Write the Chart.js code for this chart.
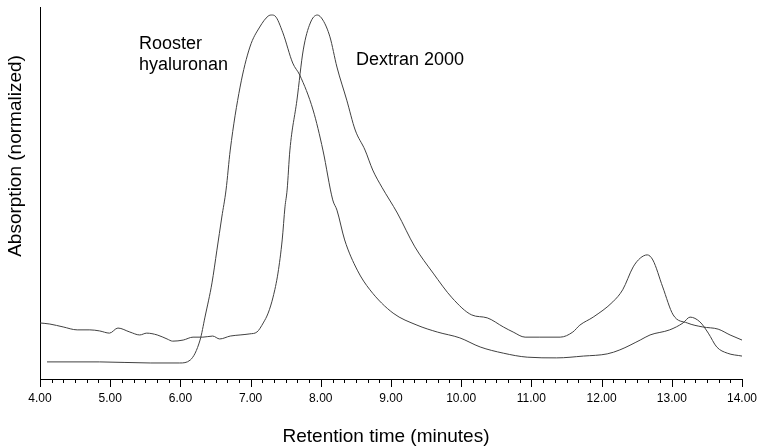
<!DOCTYPE html>
<html>
<head>
<meta charset="utf-8">
<script src="https://cdn.jsdelivr.net/npm/chart.js@4/dist/chart.umd.min.js"></script>
<style>
  html, body { margin: 0; padding: 0; background: #fff; }
  #wrap { width: 761px; height: 446px; position: relative; }
</style>
</head>
<body>
<div id="wrap"><canvas id="chart"></canvas></div>
<script>
// retention time (min) and normalized absorption
var tRooster = [4.10, 4.85, 5.57, 5.99, 6.14, 6.28, 6.35, 6.45, 6.52, 6.59, 6.65, 6.71, 6.85, 6.99, 7.13, 7.25, 7.30, 7.35, 7.46, 7.60, 7.70, 7.89, 8.03, 8.17, 8.23, 8.34, 8.52, 8.70, 9.03, 9.37, 9.66, 9.98, 10.27, 10.60, 10.94, 11.36, 11.74, 12.08, 12.26, 12.55, 12.69, 12.97, 13.16, 13.26, 13.40, 13.52, 13.64, 13.79, 14.00];
var absRooster = [0.047, 0.047, 0.044, 0.044, 0.052, 0.107, 0.170, 0.264, 0.354, 0.445, 0.519, 0.629, 0.802, 0.912, 0.967, 0.997, 1.000, 0.997, 0.951, 0.868, 0.835, 0.739, 0.629, 0.492, 0.464, 0.382, 0.299, 0.245, 0.181, 0.148, 0.129, 0.113, 0.088, 0.071, 0.060, 0.058, 0.063, 0.069, 0.080, 0.107, 0.121, 0.135, 0.154, 0.170, 0.157, 0.126, 0.088, 0.071, 0.063];

var tDextran = [4.00, 4.14, 4.33, 4.53, 4.71, 4.85, 4.99, 5.11, 5.28, 5.42, 5.52, 5.67, 5.81, 5.89, 6.04, 6.18, 6.32, 6.46, 6.56, 6.71, 6.85, 6.99, 7.09, 7.18, 7.25, 7.32, 7.39, 7.45, 7.49, 7.52, 7.56, 7.66, 7.75, 7.85, 7.95, 8.03, 8.13, 8.23, 8.37, 8.49, 8.63, 8.74, 8.87, 9.09, 9.34, 9.60, 9.87, 10.15, 10.37, 10.60, 10.74, 10.91, 11.12, 11.41, 11.59, 11.69, 11.88, 12.16, 12.30, 12.45, 12.55, 12.65, 12.73, 12.87, 13.02, 13.22, 13.44, 13.66, 13.83, 14.00];
var absDextran = [0.154, 0.151, 0.143, 0.135, 0.135, 0.132, 0.126, 0.140, 0.129, 0.121, 0.126, 0.121, 0.110, 0.104, 0.107, 0.115, 0.115, 0.118, 0.110, 0.118, 0.121, 0.124, 0.129, 0.154, 0.181, 0.225, 0.291, 0.382, 0.473, 0.519, 0.629, 0.766, 0.904, 0.978, 1.000, 0.986, 0.940, 0.857, 0.766, 0.684, 0.629, 0.574, 0.527, 0.456, 0.363, 0.291, 0.223, 0.176, 0.168, 0.143, 0.129, 0.115, 0.115, 0.115, 0.129, 0.148, 0.170, 0.212, 0.245, 0.308, 0.332, 0.341, 0.327, 0.253, 0.176, 0.154, 0.143, 0.137, 0.121, 0.107];

var xMin = 4, xMax = 14;
var minorPerMinute = 6; // 10 s ticks

function pairs(xs, ys) {
  var out = [];
  for (var i = 0; i < xs.length; i++) out.push({ x: xs[i], y: ys[i] });
  return out;
}

var FONT = "'Liberation Sans', Arial, sans-serif";

// tick marks, axis titles and peak labels
var decor = {
  id: "decor",
  afterDraw: function (chart) {
    var ctx = chart.ctx;
    var xs = chart.scales.x;
    var bottom = chart.chartArea.bottom;
    ctx.save();
    ctx.strokeStyle = "#000";
    ctx.lineWidth = 1;
    var n = (xMax - xMin) * minorPerMinute;
    for (var i = 0; i <= n; i++) {
      var px = Math.round(xs.getPixelForValue(xMin + i / minorPerMinute)) + 0.5;
      var len = (i % minorPerMinute === 0) ? 8 : 4;
      ctx.beginPath();
      ctx.moveTo(px, bottom);
      ctx.lineTo(px, bottom + len);
      ctx.stroke();
    }

    ctx.fillStyle = "#000";
    ctx.textBaseline = "alphabetic";
    ctx.font = "19px " + FONT;
    ctx.textAlign = "center";
    ctx.fillText("Retention time (minutes)", 386, 442);

    ctx.save();
    ctx.translate(21, 156);
    ctx.rotate(-Math.PI / 2);
    ctx.fillText("Absorption (normalized)", 0, 0);
    ctx.restore();

    ctx.font = "18px " + FONT;
    ctx.textAlign = "left";
    ctx.fillText("Rooster", 139, 49);
    ctx.fillText("hyaluronan", 139, 70);
    ctx.fillText("Dextran 2000", 356, 65);
    ctx.restore();
  }
};

new Chart(document.getElementById("chart").getContext("2d"), {
  type: "line",
  data: {
    datasets: [
      {
        label: "Rooster hyaluronan",
        data: pairs(tRooster, absRooster),
        borderColor: "#404040",
        borderWidth: 1,
        pointRadius: 0,
        cubicInterpolationMode: "monotone",
      },
      {
        label: "Dextran 2000",
        data: pairs(tDextran, absDextran),
        borderColor: "#404040",
        borderWidth: 1,
        pointRadius: 0,
        cubicInterpolationMode: "monotone",
      },
    ],
  },
  options: {
    responsive: true,
    maintainAspectRatio: false,
    animation: false,
    layout: { padding: { left: 40, right: 19, top: 7, bottom: 0 } },
    plugins: {
      legend: { display: false },
      tooltip: { enabled: false },
    },
    scales: {
      x: {
        type: "linear",
        min: xMin,
        max: xMax,
        afterFit: function (s) {
          s.height = 67;
          s.paddingLeft = 0;
          s.paddingRight = 0;
        },
        afterBuildTicks: function (s) {
          var t = [];
          for (var v = xMin; v <= xMax; v++) t.push({ value: v });
          s.ticks = t;
        },
        grid: { display: true, drawOnChartArea: false, drawTicks: false },
        border: { display: true, color: "#000", width: 1 },
        ticks: {
          padding: 12,
          color: "#000",
          font: { family: FONT, size: 12 },
          maxRotation: 0,
          autoSkip: false,
          callback: function (v) { return v.toFixed(2); },
        },
      },
      y: {
        min: 0,
        max: 1.022,
        afterFit: function (s) { s.width = 0; },
        grid: { display: true, drawOnChartArea: false, drawTicks: false },
        border: { display: true, color: "#000", width: 1 },
        ticks: { display: false },
      },
    },
  },
  plugins: [decor],
});
</script>
</body>
</html>
